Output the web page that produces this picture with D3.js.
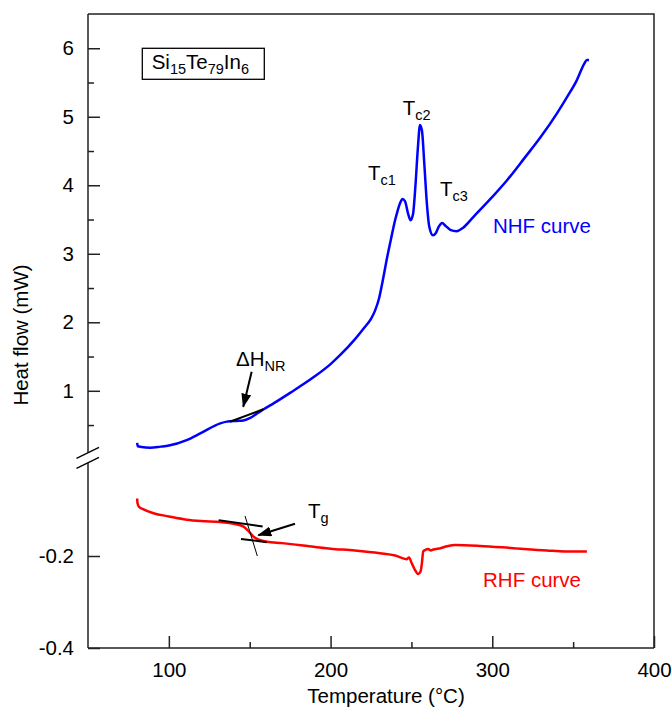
<!DOCTYPE html>
<html>
<head>
<meta charset="utf-8">
<script src="https://cdn.jsdelivr.net/npm/d3@7"></script>
<style>
	body { margin: 0; background: #fff; }
	text { font-family: "Liberation Sans", Arial, sans-serif; }
</style>
</head>
<body>
<div id="chart"></div>
<script>
var WIDTH = 672;
var HEIGHT = 711;

// x axis
var tempTicks = [100, 200, 300, 400];
var tempMinor = [150, 250, 350];
// y axis, upper part (mW) and lower part below the break
var upperTicks = [1, 2, 3, 4, 5, 6];
var upperMinor = [0.5, 1.5, 2.5, 3.5, 4.5, 5.5];
var lowerTicks = [-0.4, -0.2];

// NHF curve
var nhfTemp = [80.4, 80.8, 83, 88.4, 95, 100, 111, 120, 131.8, 135.9, 138, 142, 146, 150, 154, 158.6,
	165, 175, 189.6, 200, 206.3, 215, 220.8, 225, 227.5, 230, 232.2, 235, 237.4, 240, 241.5, 243, 244.5,
	246, 248, 249.5, 251, 252.5, 254, 255.3, 256.5, 258, 259.5, 261, 263.3, 265, 267, 269, 271, 274,
	278, 282, 288.4, 300, 309, 320, 329.8, 340, 346.3, 352, 357, 358.5, 359.8];
var nhfFlow = [0.24, 0.19, 0.18, 0.17, 0.185, 0.20, 0.28, 0.385, 0.525, 0.55, 0.555, 0.56, 0.565, 0.60, 0.66, 0.73,
	0.82, 0.97, 1.20, 1.39, 1.53, 1.75, 1.92, 2.05, 2.17, 2.35, 2.60, 2.95, 3.22, 3.50, 3.63, 3.74, 3.80,
	3.77, 3.58, 3.49, 3.58, 4.00, 4.55, 4.88, 4.80, 4.30, 3.75, 3.40, 3.27, 3.30, 3.40, 3.45, 3.41, 3.35,
	3.33, 3.38, 3.54, 3.83, 4.07, 4.40, 4.70, 5.05, 5.29, 5.52, 5.78, 5.83, 5.83];

// RHF curve
var rhfTemp = [80.4, 80.6, 81.5, 84, 90.5, 100, 111, 120, 131.8, 140, 146.2, 149, 152.4, 156, 160.6,
	170, 183, 191.5, 200, 215, 230.6, 240, 247, 248.5, 250, 252, 254.2, 255.6, 256.5, 257.3, 258.5,
	260.4, 262, 263.5, 268, 272, 277, 292.5, 313, 333.8, 345, 358.5];
var rhfFlow = [-0.075, -0.085, -0.093, -0.098, -0.107, -0.114, -0.121, -0.124, -0.126, -0.130, -0.136, -0.145, -0.158, -0.165, -0.169,
	-0.172, -0.177, -0.181, -0.184, -0.188, -0.194, -0.199, -0.207, -0.203, -0.214, -0.229, -0.239, -0.234, -0.215, -0.190, -0.187,
	-0.185, -0.188, -0.186, -0.183, -0.179, -0.176, -0.178, -0.183, -0.188, -0.190, -0.190];

var x = d3.scaleLinear().domain([50, 400]).range([88, 654]);
var yU = d3.scaleLinear().domain([0, 6.5]).range([459.3, 14]);
var yL = d3.scaleLinear().domain([-0.4, 0]).range([648, 464]);

var svg = d3.select('#chart').append('svg')
	.attr('width', WIDTH)
	.attr('height', HEIGHT);

svg.append('defs').append('marker')
	.attr('id', 'head')
	.attr('markerUnits', 'userSpaceOnUse')
	.attr('viewBox', '0 0 14 10')
	.attr('markerWidth', 14)
	.attr('markerHeight', 10)
	.attr('refX', 13)
	.attr('refY', 5)
	.attr('orient', 'auto')
	.append('path')
	.attr('d', 'M0,0 L14,5 L0,10 Z')
	.attr('fill', '#000');

var axisColor = '#222';

// frame (top and right)
svg.append('path')
	.attr('d', 'M' + x(50) + ',' + yU(6.5) + ' H' + x(400) + ' V' + yL(-0.4))
	.attr('fill', 'none')
	.attr('stroke', axisColor)
	.attr('stroke-width', 1.5);

function styleAxis(g) {
	g.select('.domain').remove();
	g.selectAll('line').attr('stroke', axisColor).attr('stroke-width', 1.5);
	g.selectAll('text').attr('font-size', '20.5px').attr('fill', '#000')
		.attr('font-family', '"Liberation Sans", Arial, sans-serif');
}

// bottom axis
svg.append('g')
	.attr('transform', 'translate(0,' + yL(-0.4) + ')')
	.call(d3.axisBottom(x).tickValues(tempTicks).tickSizeInner(-12).tickSizeOuter(0).tickPadding(14))
	.call(styleAxis);
svg.append('g')
	.attr('transform', 'translate(0,' + yL(-0.4) + ')')
	.call(d3.axisBottom(x).tickValues(tempMinor).tickSizeInner(-6).tickSizeOuter(0).tickFormat(''))
	.call(styleAxis);
svg.append('line')
	.attr('x1', x(50)).attr('x2', x(400))
	.attr('y1', yL(-0.4)).attr('y2', yL(-0.4))
	.attr('stroke', axisColor).attr('stroke-width', 1.5);

// left axis, upper part
svg.append('g')
	.attr('transform', 'translate(' + x(50) + ',0)')
	.call(d3.axisLeft(yU).tickValues(upperTicks).tickSizeInner(-12).tickSizeOuter(0).tickPadding(14)
		.tickFormat(d3.format('d')))
	.call(styleAxis);
svg.append('g')
	.attr('transform', 'translate(' + x(50) + ',0)')
	.call(d3.axisLeft(yU).tickValues(upperMinor).tickSizeInner(-6).tickSizeOuter(0).tickFormat(''))
	.call(styleAxis);

// left axis, lower part
svg.append('g')
	.attr('transform', 'translate(' + x(50) + ',0)')
	.call(d3.axisLeft(yL).tickValues(lowerTicks).tickSizeInner(-12).tickSizeOuter(0).tickPadding(14)
		.tickFormat(function(d) { return d3.format('.1f')(d).replace('−', '-'); }))
	.call(styleAxis);

// axis line with break
var breakTop = yU(0) - 6.5, breakBot = yU(0) + 3.5;
svg.append('line')
	.attr('x1', x(50)).attr('x2', x(50))
	.attr('y1', yU(6.5)).attr('y2', breakTop)
	.attr('stroke', axisColor).attr('stroke-width', 1.5);
svg.append('line')
	.attr('x1', x(50)).attr('x2', x(50))
	.attr('y1', breakBot).attr('y2', yL(-0.4))
	.attr('stroke', axisColor).attr('stroke-width', 1.5);
[breakTop, breakBot].forEach(function(yb) {
	svg.append('line')
		.attr('x1', x(50) - 11.5).attr('y1', yb + 5.5)
		.attr('x2', x(50) + 11).attr('y2', yb - 5.5)
		.attr('stroke', '#000').attr('stroke-width', 1.3);
});

// axis titles
svg.append('text')
	.attr('x', 386).attr('y', 703)
	.attr('text-anchor', 'middle')
	.attr('font-size', '20.5px')
	.text('Temperature (°C)');
svg.append('text')
	.attr('transform', 'translate(28,335) rotate(-90)')
	.attr('text-anchor', 'middle')
	.attr('font-size', '20.5px')
	.text('Heat flow (mW)');

// curves
var nhfLine = d3.line()
	.x(function(d) { return x(d[0]); })
	.y(function(d) { return yU(d[1]); })
	.curve(d3.curveMonotoneX);
var rhfLine = d3.line()
	.x(function(d) { return x(d[0]); })
	.y(function(d) { return yL(d[1]); })
	.curve(d3.curveMonotoneX);

svg.append('path')
	.datum(d3.zip(nhfTemp, nhfFlow))
	.attr('d', nhfLine)
	.attr('fill', 'none')
	.attr('stroke', '#0000ff')
	.attr('stroke-width', 2.5);
svg.append('path')
	.datum(d3.zip(rhfTemp, rhfFlow))
	.attr('d', rhfLine)
	.attr('fill', 'none')
	.attr('stroke', '#ff0000')
	.attr('stroke-width', 2.5);

// tangent lines
function seg(p, q, yS, w) {
	svg.append('line')
		.attr('x1', x(p[0])).attr('y1', yS(p[1]))
		.attr('x2', x(q[0])).attr('y2', yS(q[1]))
		.attr('stroke', '#000').attr('stroke-width', w);
}
seg([137.8, 0.548], [158.4, 0.73], yU, 2);
seg([130.8, -0.122], [158, -0.136], yL, 2);
seg([144.6, -0.163], [160.5, -0.170], yL, 2);
seg([147.1, -0.113], [154.7, -0.200], yL, 1);

// arrows
function arrow(p, q, yS) {
	svg.append('line')
		.attr('x1', x(p[0])).attr('y1', yS(p[1]))
		.attr('x2', x(q[0])).attr('y2', yS(q[1]))
		.attr('stroke', '#000').attr('stroke-width', 2)
		.attr('marker-end', 'url(#head)');
}
arrow([151.2, 1.277], [146, 0.767], yU);
arrow([178, -0.13], [155.3, -0.155], yL);

// labels with subscripts
function label(xp, yp, parts, color) {
	var t = svg.append('text')
		.attr('x', xp).attr('y', yp)
		.attr('font-size', '20.5px')
		.attr('fill', color || '#000');
	var down = false;
	parts.forEach(function(p) {
		var sub = p[1];
		var ts = t.append('tspan').text(p[0]);
		if (sub) {
			ts.attr('font-size', '14.5px');
			if (!down) ts.attr('dy', 5);
			down = true;
		} else if (down) {
			ts.attr('dy', -5);
			down = false;
		}
	});
	return t;
}

label(x(223.2), yU(4.07), [['T', 0], ['c1', 1]]);
label(x(244.6), yU(5.02), [['T', 0], ['c2', 1]]);
label(x(267.7), yU(3.85), [['T', 0], ['c3', 1]]);
label(x(141.5), yU(1.36), [['ΔH', 0], ['NR', 1]]);
label(x(186), yL(-0.117), [['T', 0], ['g', 1]]);
label(x(300.4), yU(3.30), [['NHF curve', 0]], '#0000ff');
label(x(294.3), yL(-0.267), [['RHF curve', 0]], '#ff0000');

// composition box
svg.append('rect')
	.attr('x', 142.3).attr('y', 48.3)
	.attr('width', 122).attr('height', 31)
	.attr('fill', 'none')
	.attr('stroke', '#000')
	.attr('stroke-width', 1.3);
label(151.7, 69.3, [['Si', 0], ['15', 1], ['Te', 0], ['79', 1], ['In', 0], ['6', 1]]);
</script>
</body>
</html>
